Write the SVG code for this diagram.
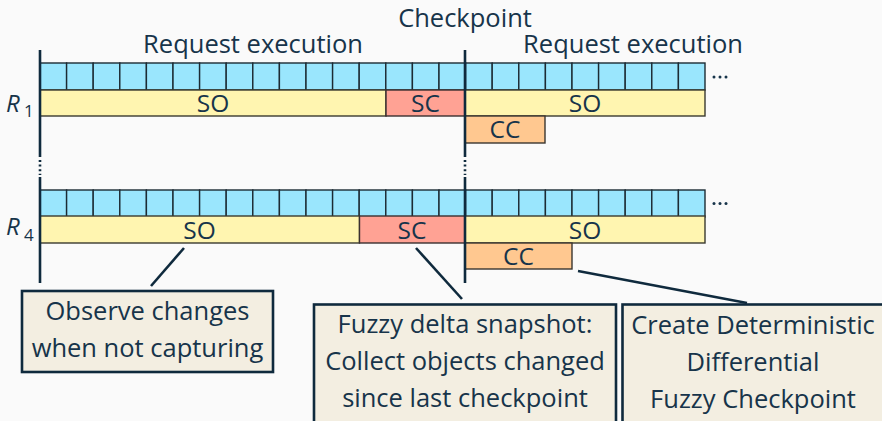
<svg xmlns="http://www.w3.org/2000/svg" width="882" height="421" viewBox="0 0 882 421">
<defs>
<style>
text{font-family:"Open Sans","Noto Sans","DejaVu Sans",sans-serif;fill:#17344a;font-size:25.5px}
.c{text-anchor:middle}
.lbl{font-size:24.5px}
.cell{fill:#9ae6fd;stroke:#1c2b33;stroke-width:1.4}
.so{fill:#fff5b0;stroke:#3a3a30;stroke-width:1.4}
.sc{fill:#ffa294;stroke:#3a3030;stroke-width:1.4}
.cc{fill:#ffc890;stroke:#3a3530;stroke-width:1.4}
.ax{stroke:#0f2a3d;stroke-width:2.6;fill:none}
.dot{stroke:#0f2a3d;stroke-width:2.6;fill:none;stroke-dasharray:2 2.6}
.box{fill:#f3eee1;stroke:#0f2a3d;stroke-width:2.6}
.con{stroke:#0f2a3d;stroke-width:2.6;fill:none}
.ell{fill:#17344a}
.rn{font-size:24px;font-style:italic}
.sub{font-size:17px}
</style>
<g id="cells">
<rect class="cell" x="0" y="0" width="26.6" height="27"/>
</g>
</defs>
<rect width="882" height="421" fill="#fafafa"/>

<g id="header">
<text class="c" x="465" y="27">Checkpoint</text>
<text class="c" x="253" y="53">Request execution</text>
<text class="c" x="633" y="53">Request execution</text>
</g>

<g id="row1">
<g>
<use href="#cells" x="40" y="63"/><use href="#cells" x="66.6" y="63"/><use href="#cells" x="93.2" y="63"/><use href="#cells" x="119.8" y="63"/><use href="#cells" x="146.4" y="63"/>
<use href="#cells" x="173" y="63"/><use href="#cells" x="199.6" y="63"/><use href="#cells" x="226.2" y="63"/><use href="#cells" x="252.8" y="63"/><use href="#cells" x="279.4" y="63"/>
<use href="#cells" x="306" y="63"/><use href="#cells" x="332.6" y="63"/><use href="#cells" x="359.2" y="63"/><use href="#cells" x="385.8" y="63"/><use href="#cells" x="412.4" y="63"/>
<use href="#cells" x="439" y="63"/><use href="#cells" x="465.6" y="63"/><use href="#cells" x="492.2" y="63"/><use href="#cells" x="518.8" y="63"/><use href="#cells" x="545.4" y="63"/>
<use href="#cells" x="572" y="63"/><use href="#cells" x="598.6" y="63"/><use href="#cells" x="625.2" y="63"/><use href="#cells" x="651.8" y="63"/><use href="#cells" x="678.4" y="63"/>
</g>
<g id="r1-so1"><rect class="so" x="40" y="90" width="346" height="26"/><text class="c lbl" x="213" y="112">SO</text></g>
<g id="r1-sc"><rect class="sc" x="386" y="90" width="79" height="26"/><text class="c lbl" x="425.5" y="112">SC</text></g>
<g id="r1-so2"><rect class="so" x="465" y="90" width="240" height="26"/><text class="c lbl" x="585" y="112">SO</text></g>
<g id="r1-cc"><rect class="cc" x="465" y="116" width="80" height="27"/><text class="c lbl" x="505" y="138">CC</text></g>
<g id="r1-ell"><circle class="ell" cx="714" cy="77" r="1.5"/><circle class="ell" cx="720" cy="77" r="1.5"/><circle class="ell" cx="726" cy="77" r="1.5"/></g>
<text class="rn" x="6" y="112">R</text><text class="sub" x="24" y="117">1</text>
</g>

<g id="row4">
<g>
<use href="#cells" x="40" y="190"/><use href="#cells" x="66.6" y="190"/><use href="#cells" x="93.2" y="190"/><use href="#cells" x="119.8" y="190"/><use href="#cells" x="146.4" y="190"/>
<use href="#cells" x="173" y="190"/><use href="#cells" x="199.6" y="190"/><use href="#cells" x="226.2" y="190"/><use href="#cells" x="252.8" y="190"/><use href="#cells" x="279.4" y="190"/>
<use href="#cells" x="306" y="190"/><use href="#cells" x="332.6" y="190"/><use href="#cells" x="359.2" y="190"/><use href="#cells" x="385.8" y="190"/><use href="#cells" x="412.4" y="190"/>
<use href="#cells" x="439" y="190"/><use href="#cells" x="465.6" y="190"/><use href="#cells" x="492.2" y="190"/><use href="#cells" x="518.8" y="190"/><use href="#cells" x="545.4" y="190"/>
<use href="#cells" x="572" y="190"/><use href="#cells" x="598.6" y="190"/><use href="#cells" x="625.2" y="190"/><use href="#cells" x="651.8" y="190"/><use href="#cells" x="678.4" y="190"/>
</g>
<g id="r4-so1"><rect class="so" x="40" y="216" width="319.5" height="27"/><text class="c lbl" x="199.5" y="239">SO</text></g>
<g id="r4-sc"><rect class="sc" x="359.5" y="216" width="105.5" height="27"/><text class="c lbl" x="412" y="239">SC</text></g>
<g id="r4-so2"><rect class="so" x="465" y="216" width="240" height="27"/><text class="c lbl" x="585" y="239">SO</text></g>
<g id="r4-cc"><rect class="cc" x="465" y="243" width="107" height="26"/><text class="c lbl" x="518.5" y="265">CC</text></g>
<g id="r4-ell"><circle class="ell" cx="714" cy="203.5" r="1.5"/><circle class="ell" cx="720" cy="203.5" r="1.5"/><circle class="ell" cx="726" cy="203.5" r="1.5"/></g>
<text class="rn" x="6" y="235">R</text><text class="sub" x="24" y="241">4</text>
</g>

<g id="axes">
<line class="ax" x1="40" y1="50" x2="40" y2="157"/>
<line class="dot" x1="40" y1="160" x2="40" y2="175"/>
<line class="ax" x1="40" y1="177" x2="40" y2="283"/>
<line class="ax" x1="465" y1="50" x2="465" y2="157"/>
<line class="dot" x1="465" y1="160" x2="465" y2="175"/>
<line class="ax" x1="465" y1="177" x2="465" y2="283"/>
</g>

<g id="connectors">
<line class="con" x1="184" y1="248" x2="151" y2="286"/>
<line class="con" x1="416" y1="248" x2="462" y2="299"/>
<line class="con" x1="578" y1="271" x2="747" y2="303"/>
</g>

<g id="note-observe">
<rect class="box" x="22" y="291" width="251" height="81"/>
<text class="c" x="147.5" y="320">Observe changes</text>
<text class="c" x="147.5" y="357">when not capturing</text>
</g>

<g id="note-fuzzy">
<rect class="box" x="314" y="304.5" width="302" height="130"/>
<text class="c" x="465" y="333">Fuzzy delta snapshot:</text>
<text class="c" x="465" y="370">Collect objects changed</text>
<text class="c" x="465" y="407">since last checkpoint</text>
</g>

<g id="note-create">
<rect class="box" x="622.5" y="304.5" width="275" height="130"/>
<text class="c" x="753" y="334">Create Deterministic</text>
<text class="c" x="753" y="371">Differential</text>
<text class="c" x="753" y="407.5">Fuzzy Checkpoint</text>
</g>
</svg>
